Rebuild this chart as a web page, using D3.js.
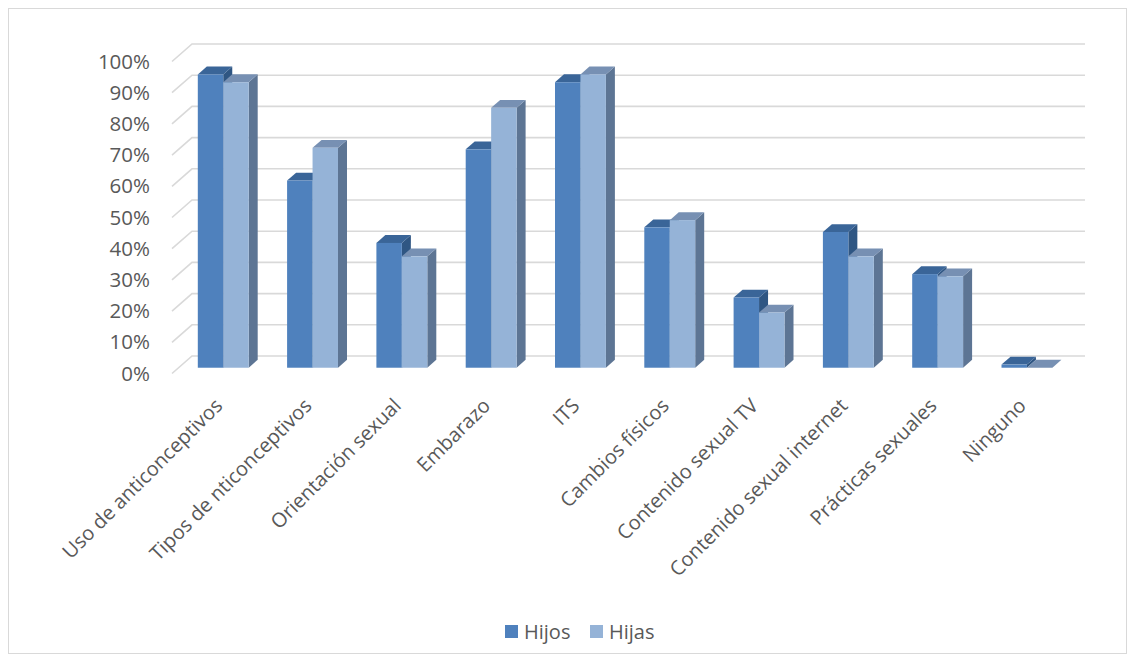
<!DOCTYPE html>
<html>
<head>
<meta charset="utf-8">
<script src="https://cdn.jsdelivr.net/npm/d3@7"></script>
<style>
  html, body { margin: 0; padding: 0; background: #fff; }
  svg { display: block; font-family: "Open Sans", "DejaVu Sans", sans-serif; }
</style>
</head>
<body>
<svg id="chart" width="1135" height="662"></svg>
<script>
// Topics discussed with sons (Hijos) and daughters (Hijas)
const categories = [
  "Uso de anticonceptivos", "Tipos de nticonceptivos", "Orientación sexual",
  "Embarazo", "ITS", "Cambios físicos", "Contenido sexual TV",
  "Contenido sexual internet", "Prácticas sexuales", "Ninguno"
];
const hijos = [0.94, 0.60, 0.40, 0.70, 0.915, 0.45, 0.225, 0.435, 0.30, 0.01];
const hijas = [0.915, 0.705, 0.357, 0.833, 0.94, 0.473, 0.177, 0.357, 0.293, 0.0];
const seriesNames = ["Hijos", "Hijas"];
const yTicks = [0, 0.1, 0.2, 0.3, 0.4, 0.5, 0.6, 0.7, 0.8, 0.9, 1.0];

const palette = {
  Hijos: { front: "#4f81bd", top: "#3a6598", side: "#2f5683" },
  Hijas: { front: "#95b3d7", top: "#7790b3", side: "#5d7594" }
};

const svg = d3.select("#chart");
const W = 1135, H = 662;

// chart frame
svg.append("rect")
  .attr("x", 8.5).attr("y", 8.5).attr("width", W - 17).attr("height", H - 17)
  .attr("fill", "#fff").attr("stroke", "#d9d9d9").attr("stroke-width", 1);

// front plane of the 3D box and its depth vector
const left = 172, right = 1065;
const DX = 20, DY = -17.5;

const y = d3.scaleLinear().domain([0, 1]).range([373.5, 61.5]);
const x = d3.scaleBand().domain(categories).range([left, right])
  .paddingInner(0.43).paddingOuter(0.215);
const xs = d3.scaleBand().domain(seriesNames).range([0, x.bandwidth()]);

// gridlines: diagonal on the side wall, horizontal on the back wall
const grid = svg.append("g").attr("stroke", "#d9d9d9").attr("stroke-width", 1.6).attr("fill", "none");
yTicks.forEach(t => {
  const yf = y(t);
  grid.append("path")
    .attr("d", `M${left},${yf}L${left + DX},${yf + DY}L${right + DX},${yf + DY}`);
});

// y axis labels
svg.append("g").selectAll("text").data(yTicks).join("text")
  .attr("x", 150).attr("y", d => y(d))
  .attr("dy", "0.35em")
  .attr("text-anchor", "end")
  .attr("fill", "#595959")
  .attr("font-size", 20.5)
  .text(d => d3.format(".0%")(d));

// bars placed partway into the depth of the box
const tFront = 0.33, tDepth = 0.45;
const ox = DX * tFront, oy = DY * tFront;
const bx = DX * tDepth, by = DY * tDepth;
const bw = xs.bandwidth();

const bars = [];
categories.forEach((c, i) => {
  bars.push({ cat: c, s: "Hijos", v: hijos[i] });
  bars.push({ cat: c, s: "Hijas", v: hijas[i] });
});

const gBars = svg.append("g");
bars.forEach(d => {
  const x0 = x(d.cat) + xs(d.s) + ox;
  const x1 = x0 + bw;
  const yb = y(0) + oy;
  const yt = y(d.v) + oy;
  const col = palette[d.s];
  const g = gBars.append("g");
  // right side face
  g.append("path")
    .attr("d", `M${x1},${yb}L${x1 + bx},${yb + by}L${x1 + bx},${yt + by}L${x1},${yt}Z`)
    .attr("fill", col.side);
  // top face
  g.append("path")
    .attr("d", `M${x0},${yt}L${x0 + bx},${yt + by}L${x1 + bx},${yt + by}L${x1},${yt}Z`)
    .attr("fill", col.top);
  // front face
  g.append("rect")
    .attr("x", x0).attr("y", yt).attr("width", bw).attr("height", Math.max(0, yb - yt))
    .attr("fill", col.front);
});

// category labels, rotated
svg.append("g").selectAll("text").data(categories).join("text")
  .attr("transform", d => `translate(${x(d) + x.bandwidth() / 2 + 7},${407}) rotate(-45)`)
  .attr("text-anchor", "end")
  .attr("fill", "#595959")
  .attr("font-size", 20)
  .text(d => d);

// legend
const legend = svg.append("g").attr("transform", "translate(505,632)");
const items = legend.selectAll("g").data(seriesNames).join("g")
  .attr("transform", (d, i) => `translate(${i * 85},0)`);
items.append("rect").attr("x", 0).attr("y", -7).attr("width", 13).attr("height", 13)
  .attr("fill", d => palette[d].front);
items.append("text").attr("x", 19).attr("y", 0).attr("dy", "0.35em")
  .attr("fill", "#595959").attr("font-size", 20).text(d => d);
</script>
</body>
</html>
